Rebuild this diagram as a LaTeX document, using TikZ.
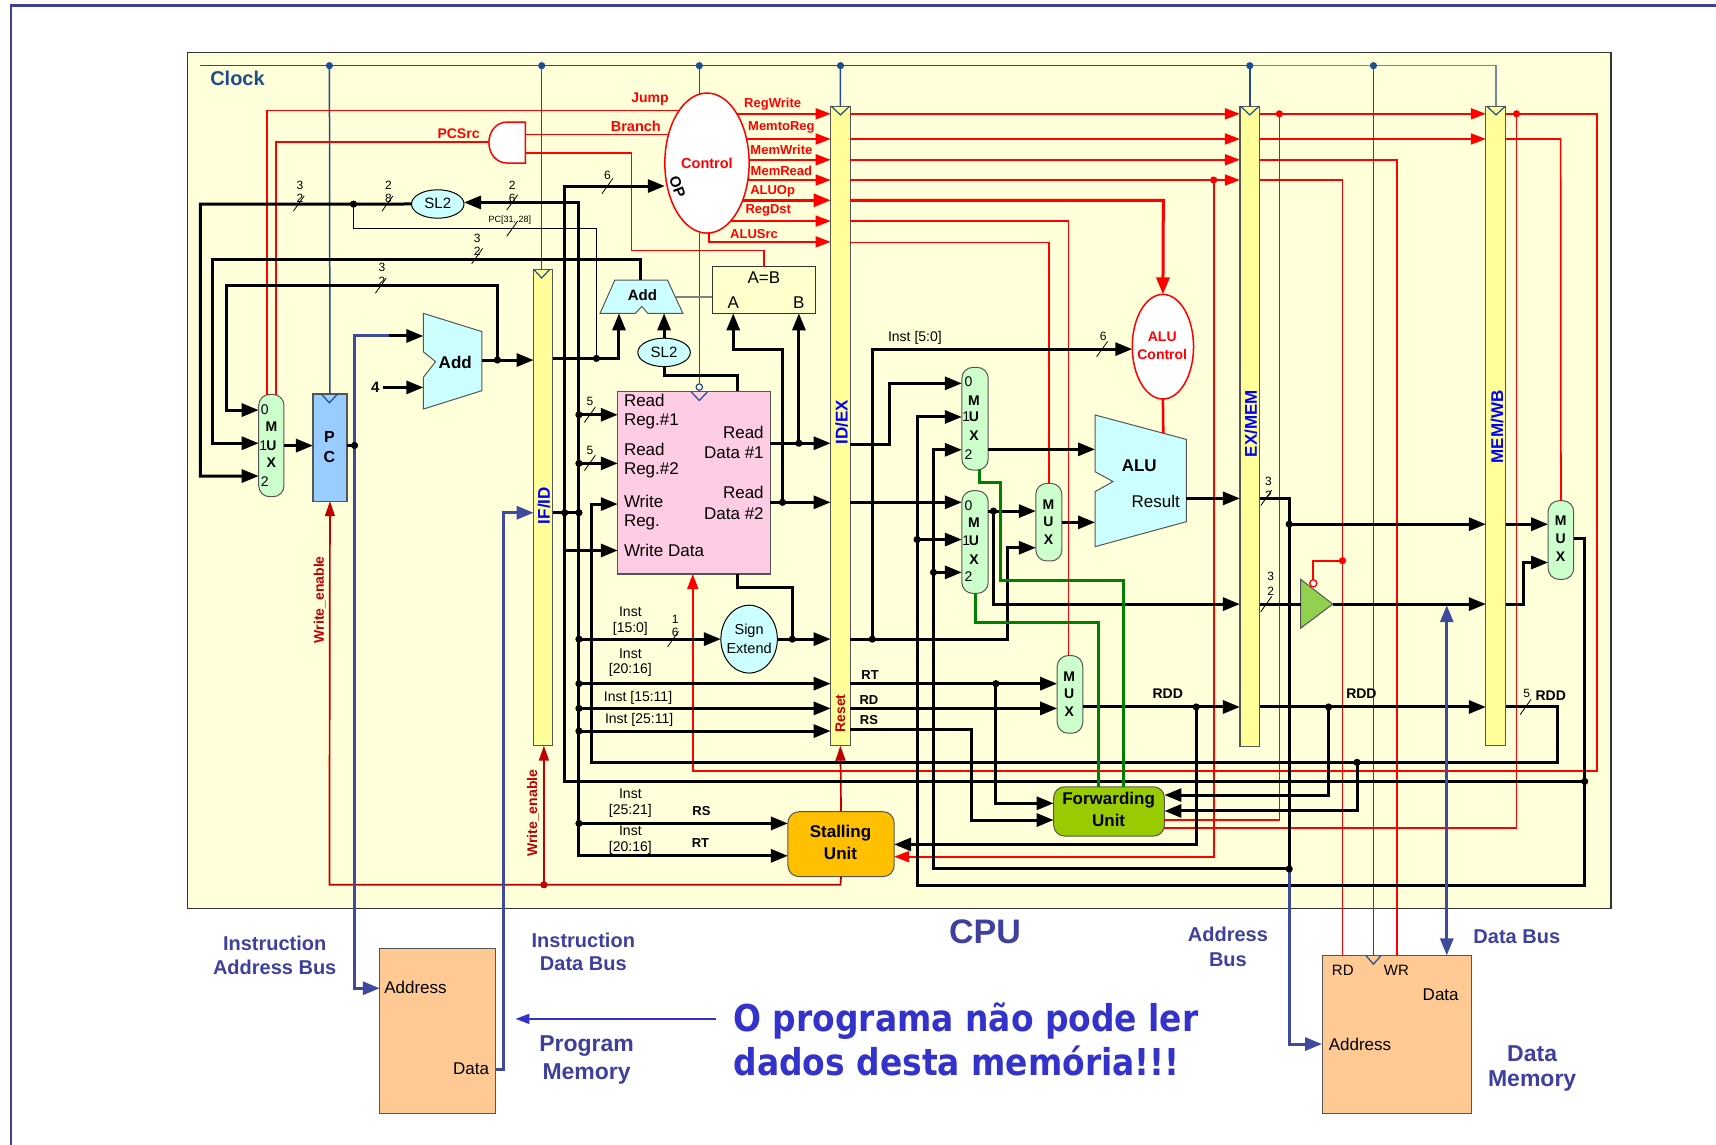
\documentclass[tikz,border=0pt]{standalone}
\usepackage{fontspec}
\setmainfont{Liberation Sans}
\newfontfamily\bigfont{DejaVu Sans}[FakeStretch=0.89]
\usetikzlibrary{arrows.meta,shapes.geometric,calc}
\definecolor{cpubg}{HTML}{FFFFD9}
\definecolor{regy}{HTML}{FFFF99}
\definecolor{clk}{HTML}{1F4E8C}
\definecolor{busb}{HTML}{3F4A9C}
\definecolor{labb}{HTML}{3F3F9E}
\definecolor{bigb}{HTML}{3333CC}
\definecolor{dred}{HTML}{C00000}
\definecolor{cyanb}{HTML}{CCFFFF}
\definecolor{mintb}{HTML}{CCFFCC}
\definecolor{pinkb}{HTML}{FFCCE6}
\definecolor{peach}{HTML}{FFC993}
\definecolor{bgreen}{HTML}{92D050}
\definecolor{fgreen}{HTML}{99CC00}
\definecolor{orangeb}{HTML}{FFC000}
\definecolor{pcb}{HTML}{99CCFF}
\definecolor{cmpb}{HTML}{FFFFCC}
\definecolor{edge}{HTML}{555555}
\newcounter{lblc}
\newcommand\lbl[3][]{\stepcounter{lblc}\node[inner sep=0pt,#1] (lbl\arabic{lblc}) at (#2) {#3};}
\newcommand\boxn[6]{\node[inner sep=0pt,outer sep=0pt,minimum width={(#4-(#2))*1.0944},minimum height={(#5-(#3))*1.0944},#6] (#1) at ({(#2+#4)/2},{(#3+#5)/2}) {};}
\newcommand\slashm[1]{\draw[line width=0.8pt] ($(#1)+(-5,7)$) -- ($(#1)+(5,-7)$);}
\newcommand\clkt[3]{\draw[clk,line width=1.2pt] (#1-#3,#2) -- (#1,#2+8) -- (#1+#3,#2);}
\tikzset{
  tn/.style={font=\fontsize{#1}{#1}\selectfont},
  tb/.style={font=\fontsize{#1}{#1}\selectfont\bfseries},
  wire/.style={line width=3pt,-{Triangle[length=17pt,width=13pt]}},
  wireo/.style={line width=3pt},
  rline/.style={red,line width=1.7pt},
  rarrow/.style={red,line width=1.7pt,-{Triangle[length=15pt,width=11pt]}},
  drarrow/.style={dred,line width=1.7pt,-{Triangle[length=15pt,width=10pt]}},
  grn/.style={green!50!black,line width=3pt},
  bbus/.style={busb,line width=3pt},
  bbusa/.style={busb,line width=3pt,-{Triangle[length=17pt,width=13pt]}},
  clkl/.style={clk,line width=1.5pt},
  pipe/.style={draw=edge,fill=regy,line width=1.2pt},
  pill/.style={draw=edge,fill=mintb,line width=1pt,rounded corners=11pt},
  ell/.style={shape=ellipse,line width=1pt},
  rc/.style={tb=13,text=red},
  bl/.style={tb=17,text=blue,rotate=90},
  bu/.style={tb=20,text=labb,align=center},
  bv/.style={tb=23,text=labb,align=center},
  bigt/.style={anchor=base west,text=bigb,font=\bigfont\fontsize{37}{37}\selectfont\bfseries}
}
\begin{document}
\begin{tikzpicture}[x=1.0944pt,y=-1.0944pt]
\useasboundingbox (0,0) rectangle (1568,1046.2);
% frame and CPU background
\coordinate (frA) at (10,1046.2); \coordinate (frB) at (10,5); \coordinate (frC) at (1568,5);
\draw[labb,line width=2.5pt] (frA) -- (frB) -- (frC);
\boxn{cpu}{171}{48}{1472}{830}{draw=black!80,fill=cpubg,line width=1.2pt}
% blocks
\boxn{pc}{286}{360}{317}{458}{draw=edge,fill=pcb,line width=1.2pt}
\boxn{ifid}{487.6}{246}{505}{681.4}{pipe}
\boxn{idex}{759}{97}{776.8}{681.4}{pipe}
\boxn{exmem}{1133}{97}{1151}{682}{pipe}
\boxn{memwb}{1357.7}{97}{1375.9}{681.4}{pipe}
\boxn{muxL}{236.4}{360.4}{259.5}{453.9}{pill}
\boxn{muxA}{878.9}{335.7}{903}{429.5}{pill}
\boxn{muxB}{878.9}{448.4}{903}{542.2}{pill}
\boxn{muxC}{946.5}{441.7}{970.3}{512.6}{pill}
\boxn{muxD}{966}{599}{989.4}{670}{pill}
\boxn{muxR}{1414.6}{457.5}{1438}{529.4}{pill}
\boxn{reg}{564.5}{357.6}{704}{524.5}{draw=edge,fill=pinkb,line width=1.2pt}
\boxn{cmp}{651}{243.7}{745}{286.3}{draw=black!80,fill=cmpb,line width=1pt}
\boxn{ctrl}{607.5}{85}{684.5}{213}{ell,draw=red,fill=white,line width=1.5pt}
\boxn{aluc}{1034.6}{269}{1090.6}{364.6}{ell,draw=red,fill=white,line width=1.5pt}
\boxn{sla}{376}{173.4}{424}{199.4}{ell,draw=black,fill=cyanb}
\boxn{slb}{582.8}{309}{630.8}{335}{ell,draw=black,fill=cyanb}
\boxn{sext}{658.7}{553}{710.3}{615}{ell,draw=black,fill=cyanb}
\boxn{fwd}{962.8}{718.9}{1064}{764}{draw=edge,fill=fgreen,line width=1pt,rounded corners=11pt}
\boxn{stall}{720}{741.7}{817}{801}{draw=edge,fill=orangeb,line width=1pt,rounded corners=11pt}
\boxn{pmem}{347}{867}{453}{1017}{draw=edge,fill=peach,line width=1pt}
\boxn{dmem}{1208}{873}{1345}{1017}{draw=edge,fill=peach,line width=1pt}
% polygons
\draw[edge,fill=cyanb,line width=1pt] (386.8,286.3) -- (440.3,303) -- (440.3,357) -- (386.8,373.8) -- (386.8,344.8) -- (398,330.5) -- (386.8,321.4) -- cycle;
\draw[edge,fill=cyanb,line width=1pt] (561.8,255.9) -- (609.9,255.9) -- (624,286.3) -- (592,286.3) -- (586.4,280) -- (580.6,286.3) -- (548.3,286.3) -- cycle;
\draw[edge,fill=cyanb,line width=1pt] (1000.6,379.2) -- (1084,401.5) -- (1084,476.7) -- (1000.6,499.5) -- (1000.6,449.3) -- (1017,440) -- (1000.6,431) -- cycle;
\draw[edge,fill=bgreen,line width=1pt] (1188.5,529.4) -- (1217.8,552) -- (1188.5,574) -- cycle;
\draw[red,fill=white,line width=1.5pt] (480,111.5) -- (464,111.5) .. controls (441,111.5) and (441,149) .. (464,149) -- (480,149) -- cycle;
% ports and junctions
\coordinate (addBa) at (386.8,307); \coordinate (addBb) at (386.8,354); \coordinate (addBo) at (440.3,329); \coordinate (fourR) at (350,354);
\coordinate (addSa) at (565.6,286.3); \coordinate (addSb) at (606.8,286.3); \coordinate (addSt) at (585,255.9); \coordinate (addSr) at (618,271.4);
\coordinate (aluA) at (1000.6,410.6); \coordinate (aluB) at (1000.6,477.3); \coordinate (aluO) at (1084,455.4); \coordinate (aluT) at (1063,396);
\coordinate (bufI) at (1188.5,552); \coordinate (bufO) at (1217.8,552); \coordinate (bufC) at (1200,533);
\coordinate (andL) at (446.4,130); \coordinate (andT) at (480,122.8); \coordinate (andB) at (480,140);
\coordinate (jSLa) at (323,186.5); \coordinate (jAdd) at (454.5,329); \coordinate (jIF) at (545,327.5);
\coordinate (jA) at (516,468.5); \coordinate (jB) at (529,468.5);
\coordinate (b1) at (529,379); \coordinate (b2) at (529,423.4); \coordinate (b3) at (529,584); \coordinate (b4) at (529,624.7);
\coordinate (b5) at (529,647.3); \coordinate (b6) at (529,668); \coordinate (b7) at (529,752.4);
\coordinate (jPC) at (324,407); \coordinate (jRDa) at (730,405); \coordinate (jRDb) at (715,459); \coordinate (jSE) at (724,584);
\coordinate (jIE) at (797,584); \coordinate (jRT) at (910,624.7); \coordinate (jMA) at (907.8,467); \coordinate (jFa) at (838,493);
\coordinate (jFb) at (853,523); \coordinate (jWB) at (1448,714); \coordinate (jEX) at (1178,794); \coordinate (jDM) at (1178,479);
\coordinate (jRa) at (1093,646); \coordinate (jRb) at (1214,646); \coordinate (jWR) at (1240,696.6); \coordinate (jWE) at (497,808.5);
\coordinate (rA) at (1109,164.5); \coordinate (rB) at (1169,104); \coordinate (rC) at (1385.7,104); \coordinate (rD) at (1226.7,512.3);
\coordinate (cka) at (301,60); \coordinate (ckb) at (495,60); \coordinate (ckc) at (639,60); \coordinate (ckd) at (768,60);
\coordinate (cke) at (1142,60); \coordinate (ckf) at (1255,60); \coordinate (ck0) at (183,60);
\coordinate (ctrlT) at (639,85.5); \coordinate (ctrlB) at (639,212.6); \coordinate (regC) at (639,353.7);
\coordinate (cRW) at (673.4,104); \coordinate (cMR) at (682,127); \coordinate (cMW) at (684.5,146); \coordinate (cMRd) at (683.4,164.5);
\coordinate (cAO) at (678.6,183); \coordinate (cRD) at (667.6,202); \coordinate (cAS) at (648,213); \coordinate (cJ) at (620.5,101); \coordinate (cBr) at (610.9,122.8);
% clock
\draw[clkl] (ck0) -- (cke);
\draw[clkl,draw=black!30!clk!60!white] (cke) -- (1367,60) -- (1367,97);
\draw[clkl] (cka) -- (pc.north);
\draw[clkl] (ckb) -- (495,246);
\draw[clkl] (ckc) -- (ctrlT);
\draw[clkl] (ctrlB) -- (regC);
\draw[clkl] (ckd) -- (idex.north);
\draw[clkl] (cke) -- (exmem.north);
\draw[clkl] (ckf) -- (1255,873);
\foreach \p in {cka,ckb,ckc,ckd,cke,ckf} \fill[clk] (\p) circle[radius=3.6pt];
% red control lines
\draw[rline] (cJ) -- (244,101) -- (244,361);
\draw[rline] (andL) -- (252,130) -- (252,361);
\draw[rline] (andT) -- (cBr);
\draw[rline] (andB) -- (577,140) -- (577,229) -- (698,229) -- (698,243.7);
\draw[rarrow] (cRW) -- (idex.west |- cRW);
\draw[rarrow] (cMR) -- (idex.west |- cMR);
\draw[rarrow] (cMW) -- (idex.west |- cMW);
\draw[rarrow] (cMRd) -- (idex.west |- cMRd);
\draw[red,line width=3pt,-{Triangle[length=17pt,width=13pt]}] (cAO) -- (idex.west |- cAO);
\draw[rarrow] (cRD) -- (idex.west |- cRD);
\draw[rarrow] (cAS) -- (648,221) -- (idex.west |- 0,221);
\draw[rarrow] (idex.east |- cRW) -- (exmem.west |- cRW);
\draw[rarrow] (idex.east |- cMR) -- (exmem.west |- cMR);
\draw[rarrow] (idex.east |- cMW) -- (exmem.west |- cMW);
\draw[rarrow] (idex.east |- cMRd) -- (exmem.west |- cMRd);
\draw[rarrow] (exmem.east |- cRW) -- (memwb.west |- cRW);
\draw[rarrow] (exmem.east |- cMR) -- (memwb.west |- cMR);
\draw[rline] (memwb.east |- cMR) -- (1426,127) -- (muxR.north);
\draw[rarrow] (memwb.east |- cRW) -- (1459,104) -- (1459,704.5) -- (633,704.5) -- (633,0 |- reg.south);
\draw[rline] (exmem.east |- cMW) -- (1276.6,146) -- (1276.6,873);
\draw[rline] (exmem.east |- cMRd) -- (1226.7,164.5) -- (1226.7,873);
\draw[rline] (rD) -- (1200,512.3) -- (bufC);
\draw[rline] (rB) -- (1169,749.3) -- (fwd.east |- 0,749.3);
\draw[rline] (rC) -- (1385.7,756.6) -- (fwd.east |- 0,756.6);
\draw[rarrow] (rA) -- (1109,782.8) -- (stall.east |- 0,782.8);
\draw[red,line width=3pt,-{Triangle[length=17pt,width=13pt]}] (idex.east |- cAO) -- (1063,183) -- (aluc.north);
\draw[rline] (idex.east |- cRD) -- (976.4,202) -- (976.4,599);
\draw[rline] (idex.east |- 0,221.5) -- (958.6,221.5) -- (958.6,441.7);
\draw[red,line width=2.5pt] (aluc.south) -- (aluT);
% dark red
\draw[drarrow] (stall.north) -- (idex.south);
\draw[drarrow] (stall.south) -- (768,808.5) -- (301,808.5) -- (pc.south);
\draw[drarrow] (jWE) -- (jWE |- ifid.south);
% black wires
\draw[wire] (jA) -- (516,170) -- (ctrl.west |- 0,170);
\draw[wireo] (jA) -- (516,714) -- (jWB);
\draw[wire] (516,503) -- (reg.west |- 0,503);
\draw[wire] (jB) -- (529,185) -- (sla.east |- 0,185);
\draw[wire] (jB) -- (529,782) -- (stall.west |- 0,782);
\draw[wireo] (ifid.east |- jB) -- (jB);
\draw[wire] (sla.west) -- (183,186.5) -- (183,435) -- (muxL.west |- 0,435);
\draw[line width=1.5pt] (jSLa) -- (323,209) -- (545,209) -- (jIF);
\draw[wire] (addSt) -- (585,236.7) -- (194.5,236.7) -- (194.5,405) -- (muxL.west |- 0,405);
\draw[wire] (jAdd) -- (454.5,260.7) -- (206.8,260.7) -- (206.8,374.7) -- (muxL.west |- 0,374.7);
\draw[wire] (muxL.east) -- (pc.west |- muxL.east);
\draw[wireo] (pc.east |- jPC) -- (jPC);
\draw[wire] (355.6,307) -- (addBa);
\draw[wire] (fourR) -- (addBb);
\draw[wire] (addBo) -- (ifid.west |- addBo);
\draw[wire] (ifid.east |- jIF) -- (565.6,327.5) -- (addSa);
\draw[line width=1.5pt,black!50] (addSr) -- (cmp.west |- addSr);
\draw[wire] (jRDb) -- (715,319.8) -- (670,319.8) -- (670,0 |- cmp.south);
\draw[wire] (jRDa) -- (730,0 |- cmp.south);
\draw[wire] (slb.north) -- (addSb);
\draw[wireo] (slb.south) -- (606.8,343) -- (674,343) -- (674,0 |- reg.north);
\draw[wire] (b1) -- (reg.west |- b1);
\draw[wire] (b2) -- (reg.west |- b2);
\draw[wire] (jWR) -- (540.6,696.6) -- (540.6,460.6) -- (reg.west |- 0,460.6);
\draw[wireo] (jWR) -- (1423,696.6) -- (1423,646) -- (memwb.east |- 0,646);
\draw[wire] (reg.east |- jRDa) -- (idex.west |- jRDa);
\draw[wire] (reg.east |- jRDb) -- (idex.west |- jRDb);
\draw[wireo] (674,0 |- reg.south) -- (674,537) -- (724,537) -- (jSE);
\draw[wire] (b3) -- (sext.west);
\draw[wire] (sext.east) -- (idex.west |- sext.east);
\draw[wire] (b4) -- (idex.west |- b4);
\draw[wire] (b5) -- (idex.west |- b5);
\draw[wire] (b6) -- (idex.west |- b6);
\draw[wire] (b7) -- (stall.west |- b7);
% after ID/EX
\draw[wire] (idex.east |- jIE) -- (920.4,584) -- (920.4,500.5) -- (muxC.west |- 0,500.5);
\draw[wire] (jIE) -- (797,319) -- (aluc.west |- 0,319);
\draw[wire] (idex.east |- 0,406.6) -- (813.2,406.6) -- (813.2,350.3) -- (muxA.west |- 0,350.3);
\draw[wire] (idex.east |- jRDb) -- (muxB.west |- jRDb);
\draw[wire] (muxA.east |- aluA) -- (aluA);
\draw[wire] (muxB.east |- jMA) -- (muxC.west |- jMA);
\draw[wire] (jMA) -- (907.8,552) -- (exmem.west |- 0,552);
\draw[wire] (muxC.east |- aluB) -- (aluB);
\draw[wire] (aluO) -- (exmem.west |- aluO);
\draw[wireo] (exmem.east |- aluO) -- (1178,455.4) -- (jEX);
\draw[wire] (jDM) -- (memwb.west |- jDM);
\draw[wire] (memwb.east |- jDM) -- (muxR.west |- jDM);
\draw[wireo] (exmem.east |- bufI) -- (bufI);
\draw[wire] (bufO) -- (memwb.west |- bufO);
\draw[wire] (memwb.east |- bufO) -- (1391.7,552) -- (1391.7,514) -- (muxR.west |- 0,514);
\draw[wire] (muxR.east |- 0,492) -- (1448,492) -- (1448,809) -- (838,809) -- (838,381) -- (muxA.west |- 0,381);
\draw[wire] (jFa) -- (muxB.west |- jFa);
\draw[wire] (jEX) -- (853,794) -- (853,411) -- (muxA.west |- 0,411);
\draw[wire] (jFb) -- (muxB.west |- jFb);
\draw[wire] (idex.east |- jRT) -- (muxD.west |- jRT);
\draw[wire] (idex.east |- b5) -- (muxD.west |- b5);
\draw[wire] (jRT) -- (910,734) -- (fwd.west |- 0,734);
\draw[wire] (idex.east |- 0,666.5) -- (887.8,666.5) -- (887.8,749.3) -- (fwd.west |- 0,749.3);
\draw[wire] (muxD.east |- jRa) -- (exmem.west |- jRa);
\draw[wire] (exmem.east |- jRb) -- (memwb.west |- jRb);
\draw[wire] (jRa) -- (1093,771.6) -- (stall.east |- 0,771.6);
\draw[wire] (jRb) -- (1214,726.5) -- (fwd.east |- 0,726.5);
\draw[wire] (jWR) -- (1240,741) -- (fwd.east |- 0,741);
% green
\draw[grn] (894.8,0 |- muxA.south) -- (894.8,441) -- (914,441) -- (914,530.6) -- (1026.7,530.6) -- (1026.7,0 |- fwd.north);
\draw[grn] (891,0 |- muxB.south) -- (891,568.7) -- (1003.8,568.7) -- (1003.8,0 |- fwd.north);
% blue buses
\draw[bbus] (jPC) -- (324,307) -- (355.6,307);
\draw[bbusa] (jPC) -- (324,903) -- (pmem.west |- 0,903);
\draw[bbusa] (453,977) -- (460,977) -- (460,468.5) -- (ifid.west |- jB);
\draw[bbusa] (jEX) -- (1178,954) -- (dmem.west |- 0,954);
\draw[busb,line width=3pt,{Triangle[length=17pt,width=13pt]}-{Triangle[length=17pt,width=13pt]}] (1322,553) -- (1322,0 |- dmem.north);
\coordinate (noteA) at (654,931); \coordinate (noteB) at (471,931);
\draw[bigb,line width=2pt,-{Triangle[length=14pt,width=10pt]}] (noteA) -- (noteB);
% dots
\foreach \p in {jSLa,jAdd,jIF,jA,jB,b1,b2,b3,b4,b5,b6,b7,jPC,jRDa,jRDb,jSE,jIE,jRT,jMA,jFa,jFb,jWB,jEX,jDM,jRa,jRb,jWR} \fill (\p) circle[radius=3.6pt];
\foreach \p in {rA,rB,rC,rD} \fill[red] (\p) circle[radius=3.6pt];
\fill[dred] (jWE) circle[radius=3.6pt];
% clock triangles and bubbles
\clkt{301}{360}{7.5}
\clkt{495}{246}{7.5}
\clkt{768}{97}{8.5}
\clkt{1142}{97}{8.5}
\clkt{1367}{97}{8.5}
\clkt{1255}{873}{7}
\clkt{639}{358}{7.5}
\draw[clk,fill=white,line width=1.2pt] (regC) circle[radius=3.2pt];
\draw[red,fill=white,line width=1.3pt] (bufC) circle[radius=3.6pt];
% slashes
\slashm{273,186} \slashm{354,186} \slashm{468,185} \slashm{555,170} \slashm{468,209} \slashm{436,234} \slashm{348,261}
\slashm{539,379} \slashm{539,423} \slashm{615,584} \slashm{1007,319} \slashm{1157,455} \slashm{1157,552} \slashm{1394,646}
% texts
\lbl[tb=20,text=clk]{217,72}{Clock}
\lbl[tb=34,text=labb]{900,851}{CPU}
\lbl[rc,tb=14]{594,91}{Jump} \lbl[rc,tb=14.5]{581,115}{Branch} \lbl[rc,tb=14]{419,122}{PCSrc}
\lbl[tb=14.5,text=red]{646,149}{Control}
\lbl[tb=15,rotate=-70]{619,171}{OP}
\lbl[rc]{706,95}{RegWrite} \lbl[rc]{714,116}{MemtoReg} \lbl[rc]{714,137}{MemWrite} \lbl[rc]{714,156}{MemRead}
\lbl[rc]{706,175}{ALUOp} \lbl[rc]{702,192}{RegDst} \lbl[rc]{689,214}{ALUSrc}
\lbl[tb=14,text=red]{1062,308}{ALU} \lbl[tb=14,text=red]{1062,324}{Control}
\lbl[tn=15]{400,186}{SL2} \lbl[tn=15]{606.8,322}{SL2}
\lbl[tn=14.5]{684.5,576}{Sign} \lbl[tn=14.5]{684.5,592}{Extend}
\lbl[tb=17]{416,331}{Add} \lbl[tb=15]{587,270}{Add}
\lbl[tb=17]{1041,426}{ALU} \lbl[tn=17]{1056,458}{Result}
\lbl[tb=16]{301,399}{P} \lbl[tb=16]{301,418}{C}
\lbl[tb=15]{343,354}{4}
\lbl[tn=17]{698,254}{A=B} \lbl[tn=17]{670,277}{A} \lbl[tn=17]{730,277}{B}
\lbl[bl]{497,462}{IF/ID} \lbl[bl]{769,386}{ID/EX} \lbl[bl]{1143,387}{EX/MEM} \lbl[bl]{1368,390}{MEM/WB}
\lbl[tb=14,text=dred,rotate=90]{768,652}{Reset}
\lbl[tb=14,text=dred,rotate=90]{292,548}{Write\_enable}
\lbl[tb=14,text=dred,rotate=90]{487,743}{Write\_enable}
\lbl[tn=17,anchor=west]{570,366}{Read} \lbl[tn=17,anchor=west]{570,385}{Reg.\#1}
\lbl[tn=17,anchor=west]{570,411}{Read} \lbl[tn=17,anchor=west]{570,430}{Reg.\#2}
\lbl[tn=17,anchor=west]{570,458}{Write} \lbl[tn=17,anchor=west]{570,477}{Reg.}
\lbl[tn=17,anchor=west]{570,503}{Write Data}
\lbl[tn=17,anchor=east]{698,395}{Read} \lbl[tn=17,anchor=east]{698,414}{Data \#1}
\lbl[tn=17,anchor=east]{698,450}{Read} \lbl[tn=17,anchor=east]{698,469}{Data \#2}
\lbl[tn=14]{576,559}{Inst} \lbl[tn=14]{576,575}{[15:0]}
\lbl[tn=14]{576,597}{Inst} \lbl[tn=14]{576,612}{[20:16]}
\lbl[tn=14]{583,638}{Inst [15:11]} \lbl[tn=14]{584,658}{Inst [25:11]}
\lbl[tn=14]{576,725}{Inst} \lbl[tn=14]{576,741}{[25:21]}
\lbl[tn=14]{576,759}{Inst} \lbl[tn=14]{576,775}{[20:16]}
\lbl[tb=13]{641,741}{RS} \lbl[tb=13]{640,770}{RT}
\lbl[tn=14]{836,309}{Inst [5:0]}
\lbl[tb=13]{795,617}{RT} \lbl[tb=13]{794,640}{RD} \lbl[tb=13]{794,658}{RS}
\lbl[tb=14]{1067,634}{RDD} \lbl[tb=14]{1244,634}{RDD} \lbl[tb=14]{1417,636}{RDD}
\lbl[tb=17]{1013,731}{Forwarding} \lbl[tb=17]{1013,750}{Unit}
\lbl[tb=17]{768,761}{Stalling} \lbl[tb=17]{768,780}{Unit}
\lbl[tn=12]{274,169}{3} \lbl[tn=12]{274,181}{2} \lbl[tn=12]{355,169}{2} \lbl[tn=12]{355,181}{8}
\lbl[tn=12]{468,169}{2} \lbl[tn=12]{468,181}{6} \lbl[tn=12]{555,160}{6}
\lbl[tn=9]{466,201}{PC[31, 28]}
\lbl[tn=12]{436,218}{3} \lbl[tn=12]{436,230}{2} \lbl[tn=12]{349,244}{3} \lbl[tn=12]{349,257}{2}
\lbl[tn=12]{539,367}{5} \lbl[tn=12]{539,412}{5} \lbl[tn=12]{617,566}{1} \lbl[tn=12]{617,578}{6}
\lbl[tn=12]{1008,307}{6} \lbl[tn=12]{1159,440}{3} \lbl[tn=12]{1159,453}{2} \lbl[tn=12]{1161,527}{3} \lbl[tn=12]{1161,540}{2}
\lbl[tn=12]{1395,634}{5}
% mux letters
\lbl[tn=14]{242,374}{0} \lbl[tb=14]{248,390}{M} \lbl[tn=14]{240.6,407}{1} \lbl[tb=14]{248,407}{U} \lbl[tb=14]{248,423}{X} \lbl[tn=14]{242,440}{2}
\lbl[tn=14]{885,349}{0} \lbl[tb=14]{890,366}{M} \lbl[tn=14]{883,381}{1} \lbl[tb=14]{890,381}{U} \lbl[tb=14]{890,398}{X} \lbl[tn=14]{885,415}{2}
\lbl[tn=14]{885,462}{0} \lbl[tb=14]{890,478}{M} \lbl[tn=14]{883,494}{1} \lbl[tb=14]{890,494}{U} \lbl[tb=14]{890,511}{X} \lbl[tn=14]{885,527}{2}
\lbl[tb=14]{958,461}{M} \lbl[tb=14]{958,477}{U} \lbl[tb=14]{958,493}{X}
\lbl[tb=14]{977,618}{M} \lbl[tb=14]{977,634}{U} \lbl[tb=14]{977,650}{X}
\lbl[tb=14]{1426,476}{M} \lbl[tb=14]{1426,492}{U} \lbl[tb=14]{1426,509}{X}
% memories
\lbl[tn=17,anchor=west]{351,902}{Address} \lbl[tn=17,anchor=east]{447,977}{Data}
\lbl[tn=15]{1227,887}{RD} \lbl[tn=15]{1276,887}{WR} \lbl[tn=17,anchor=east]{1333,909}{Data} \lbl[tn=17,anchor=west]{1214,954}{Address}
\lbl[bu]{251,862}{Instruction} \lbl[bu]{251,884}{Address Bus}
\lbl[bu]{533,859}{Instruction} \lbl[bu]{533,881}{Data Bus}
\lbl[bv]{536,956}{Program} \lbl[bv]{536,981}{Memory}
\lbl[bu]{1122,854}{Address} \lbl[bu]{1122,877}{Bus}
\lbl[bu]{1386,856}{Data Bus}
\lbl[bv]{1400,963}{Data} \lbl[bv]{1400,988}{Memory}
\lbl[bigt]{670,942.7}{O programa não pode ler}
\lbl[bigt]{670,983}{dados desta memória!!!}
\end{tikzpicture}
\end{document}
